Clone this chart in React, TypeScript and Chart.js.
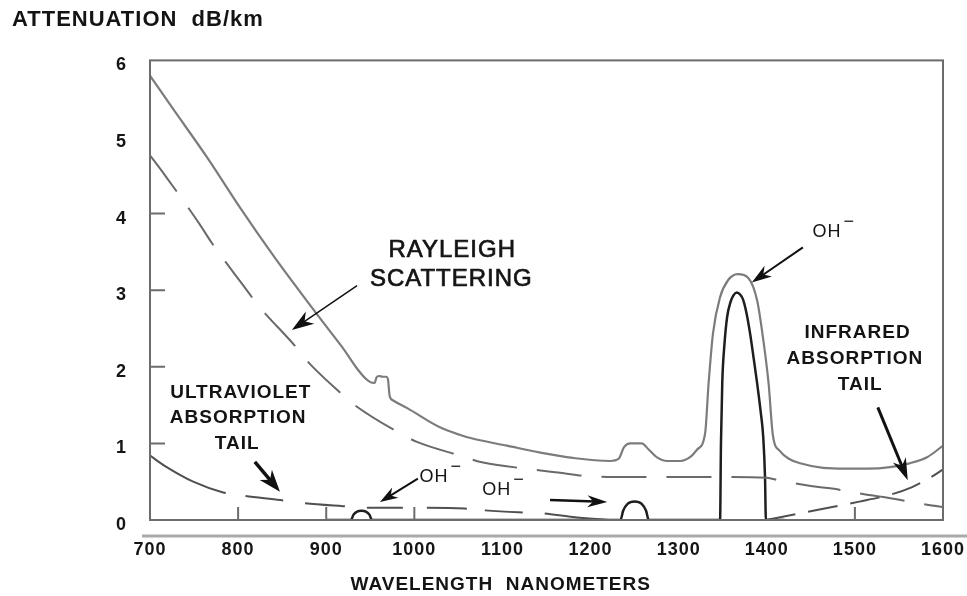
import React, { useEffect, useRef } from "react";
import { Chart, registerables } from "chart.js";

Chart.register(...registerables);

const FONT = "'Liberation Sans', Arial, Helvetica, sans-serif";
const INK = "#141414";

// ---- Data (wavelength in nm, attenuation in dB/km) ----
const totalWavelength = [700, 726, 765, 802, 840, 878, 916, 950, 955, 957, 960, 964, 968, 970, 972, 976, 992, 1029, 1052, 1067, 1105, 1143, 1180, 1222, 1232, 1238, 1245, 1258, 1266, 1275, 1287, 1302, 1314, 1321, 1330, 1334, 1339, 1347, 1356, 1367, 1379, 1389, 1395, 1402, 1407, 1415, 1425, 1438, 1464, 1490, 1514, 1540, 1562, 1582, 1600];
const totalAttenuation = [5.8, 5.37, 4.73, 4.08, 3.45, 2.86, 2.29, 1.8, 1.79, 1.86, 1.88, 1.87, 1.87, 1.84, 1.62, 1.56, 1.46, 1.21, 1.11, 1.06, 0.97, 0.88, 0.81, 0.77, 0.8, 0.95, 1.0, 1.0, 0.92, 0.82, 0.77, 0.77, 0.83, 0.92, 1.13, 1.79, 2.44, 2.91, 3.13, 3.21, 3.16, 2.87, 2.44, 1.79, 1.1, 0.9, 0.8, 0.74, 0.68, 0.67, 0.67, 0.69, 0.74, 0.82, 0.97];

const rayleighWavelength = [700, 717, 757, 770, 806, 823, 867, 878, 916, 930, 984, 1003, 1052, 1078, 1134, 1163, 1200, 1250, 1300, 1350, 1400, 1413, 1452, 1474, 1509, 1532, 1562, 1582, 1600];
const rayleighAttenuation = [4.76, 4.5, 3.85, 3.62, 3.06, 2.8, 2.24, 2.08, 1.66, 1.52, 1.13, 1.02, 0.84, 0.75, 0.66, 0.62, 0.57, 0.56, 0.56, 0.56, 0.55, 0.52, 0.44, 0.41, 0.34, 0.3, 0.24, 0.2, 0.17];

const uvWavelength = [700, 719, 749, 783, 804, 848, 874, 919, 946, 984, 1014, 1057, 1075, 1118, 1143, 1180, 1220];
const uvAttenuation = [0.84, 0.69, 0.5, 0.36, 0.32, 0.26, 0.22, 0.18, 0.16, 0.16, 0.16, 0.15, 0.13, 0.1, 0.09, 0.04, 0.0];

const irWavelength = [1399, 1435, 1470, 1505, 1540, 1565, 1585, 1600];
const irAttenuation = [0.0, 0.08, 0.16, 0.24, 0.33, 0.43, 0.55, 0.66];

const ohWavelength = [900, 928, 931, 935, 940, 945, 949, 952, 1234, 1237, 1242, 1250, 1258, 1263, 1266, 1347, 1348, 1349.5, 1352, 1355, 1359, 1362, 1366, 1370, 1373, 1377, 1381, 1385, 1389, 1393, 1396, 1398, 1399, 1420];
const ohAttenuation = [0, 0, 0.07, 0.11, 0.12, 0.11, 0.07, 0, 0, 0.12, 0.21, 0.24, 0.21, 0.12, 0, 0, 1.0, 1.8, 2.3, 2.65, 2.85, 2.93, 2.97, 2.94, 2.88, 2.7, 2.44, 2.12, 1.79, 1.42, 1.08, 0.56, 0, 0];

const xTickValues = [700, 800, 900, 1000, 1100, 1200, 1300, 1400, 1500, 1600];
const yTickValues = [0, 1, 2, 3, 4, 5, 6];
const xInnerTicks = [800, 900, 1000, 1500];
const yInnerTicks = [1, 2, 3, 4];

// ---- Annotations (anchored in data coordinates) ----
const captions = [
  { text: "RAYLEIGH", x: 1043, y: 3.52, size: 24, weight: "normal", stroke: 0.7 },
  { text: "SCATTERING", x: 1042, y: 3.14, size: 24, weight: "normal", stroke: 0.7 },
  { text: "ULTRAVIOLET", x: 803, y: 1.66, size: 19, weight: "bold", stroke: 0 },
  { text: "ABSORPTION", x: 800, y: 1.33, size: 19, weight: "bold", stroke: 0 },
  { text: "TAIL", x: 799, y: 0.99, size: 19, weight: "bold", stroke: 0 },
  { text: "INFRARED", x: 1503, y: 2.44, size: 19, weight: "bold", stroke: 0 },
  { text: "ABSORPTION", x: 1500, y: 2.11, size: 19, weight: "bold", stroke: 0 },
  { text: "TAIL", x: 1506, y: 1.76, size: 19, weight: "bold", stroke: 0 },
];
const ohLabels = [
  { x: 1006, y: 0.56 },
  { x: 1077, y: 0.39 },
  { x: 1452, y: 3.76 },
];
const arrows = [
  { from: [935, 3.06], to: [861, 2.48], lw: 1.5, len: 22, w: 15 },
  { from: [819, 0.76], to: [847.5, 0.37], lw: 3.5, len: 22, w: 16 },
  { from: [1004, 0.54], to: [961, 0.235], lw: 2, len: 18, w: 12 },
  { from: [1154, 0.26], to: [1219, 0.235], lw: 2.5, len: 20, w: 12 },
  { from: [1441, 3.56], to: [1383, 3.1], lw: 2, len: 20, w: 13 },
  { from: [1526, 1.47], to: [1560, 0.52], lw: 3, len: 22, w: 14 },
];

const pts = (xs: number[], ys: number[]) => xs.map((x, i) => ({ x, y: ys[i] }));

function drawArrow(ctx: CanvasRenderingContext2D, x1: number, y1: number, x2: number, y2: number, lw: number, len: number, w: number) {
  const a = Math.atan2(y2 - y1, x2 - x1);
  const c = Math.cos(a), s = Math.sin(a);
  ctx.lineWidth = lw;
  ctx.beginPath();
  ctx.moveTo(x1, y1);
  ctx.lineTo(x2 - c * len * 0.6, y2 - s * len * 0.6);
  ctx.stroke();
  ctx.beginPath();
  ctx.moveTo(x2, y2);
  ctx.lineTo(x2 - c * len - s * (w / 2), y2 - s * len + c * (w / 2));
  ctx.lineTo(x2 - c * len * 0.7, y2 - s * len * 0.7);
  ctx.lineTo(x2 - c * len + s * (w / 2), y2 - s * len - c * (w / 2));
  ctx.closePath();
  ctx.fill();
}

const decorPlugin = {
  id: "decor",
  beforeUpdate(chart: any) {
    chart.ctx.letterSpacing = "1px";
  },
  beforeDraw(chart: any) {
    chart.ctx.letterSpacing = "1px";
  },
  afterDraw(chart: any) {
    const { ctx, chartArea: a, scales } = chart;
    const xs = scales.x, ys = scales.y;
    ctx.save();
    (ctx as any).letterSpacing = "1px";
    // frame
    ctx.strokeStyle = "#6c6c6c";
    ctx.lineWidth = 2;
    ctx.strokeRect(a.left, a.top, a.right - a.left, a.bottom - a.top);
    // inner tick marks
    ctx.beginPath();
    for (const v of yInnerTicks) {
      const py = ys.getPixelForValue(v);
      ctx.moveTo(a.left, py);
      ctx.lineTo(a.left + 15, py);
    }
    for (const v of xInnerTicks) {
      const px = xs.getPixelForValue(v);
      ctx.moveTo(px, a.bottom);
      ctx.lineTo(px, a.bottom - 13);
    }
    ctx.stroke();
    // rule below axis
    ctx.strokeStyle = "#aaaaaa";
    ctx.lineWidth = 3;
    ctx.beginPath();
    ctx.moveTo(a.left - 8, a.bottom + 16);
    ctx.lineTo(chart.width, a.bottom + 16);
    ctx.stroke();

    ctx.fillStyle = INK;
    ctx.strokeStyle = INK;
    ctx.textBaseline = "middle";
    // x axis title
    ctx.font = `bold 19px ${FONT}`;
    ctx.textAlign = "center";
    ctx.fillText("WAVELENGTH  NANOMETERS", xs.getPixelForValue(1098), a.bottom + 65);
    // captions
    for (const c of captions) {
      ctx.font = `${c.weight} ${c.size}px ${FONT}`;
      const px = xs.getPixelForValue(c.x), py = ys.getPixelForValue(c.y);
      ctx.fillText(c.text, px, py);
      if (c.stroke > 0) {
        ctx.lineWidth = c.stroke;
        ctx.strokeText(c.text, px, py);
      }
    }
    // OH- labels
    ctx.textAlign = "left";
    ctx.font = `18px ${FONT}`;
    for (const o of ohLabels) {
      const px = xs.getPixelForValue(o.x), py = ys.getPixelForValue(o.y);
      ctx.fillText("OH", px, py);
      const w = ctx.measureText("OH").width;
      ctx.fillText("\u2212", px + w + 2, py - 10);
    }
    // arrows
    ctx.strokeStyle = "#111";
    ctx.fillStyle = "#111";
    for (const ar of arrows) {
      drawArrow(ctx, xs.getPixelForValue(ar.from[0]), ys.getPixelForValue(ar.from[1]), xs.getPixelForValue(ar.to[0]), ys.getPixelForValue(ar.to[1]), ar.lw, ar.len, ar.w);
    }
    ctx.restore();
  },
};

export default function App() {
  const ref = useRef<HTMLCanvasElement>(null);
  useEffect(() => {
    const tickFont = { family: FONT, size: 18, weight: "bold" as const };
    const chart = new Chart(ref.current as HTMLCanvasElement, {
      type: "line",
      data: {
        datasets: [
          { label: "Total attenuation", data: pts(totalWavelength, totalAttenuation), borderColor: "#7c7c7c", borderWidth: 2.2, pointRadius: 0, fill: false, cubicInterpolationMode: "monotone" },
          { label: "Rayleigh scattering", data: pts(rayleighWavelength, rayleighAttenuation), borderColor: "#6a6a6a", borderWidth: 2, borderDash: [45, 20], pointRadius: 0, fill: false, cubicInterpolationMode: "monotone" },
          { label: "Ultraviolet absorption tail", data: pts(uvWavelength, uvAttenuation), borderColor: "#505050", borderWidth: 2, borderDash: [85, 20, 38, 22, 40, 22, 36, 24, 40, 18, 38, 22, 66, 400], pointRadius: 0, fill: false, cubicInterpolationMode: "monotone" },
          { label: "Infrared absorption tail", data: pts(irWavelength, irAttenuation), borderColor: "#505050", borderWidth: 2, borderDash: [30, 13], pointRadius: 0, fill: false, cubicInterpolationMode: "monotone" },
          { label: "OH- absorption", data: pts(ohWavelength, ohAttenuation), borderColor: "#1e1e1e", borderWidth: 2.5, pointRadius: 0, fill: false, cubicInterpolationMode: "monotone" },
        ],
      },
      options: {
        animation: false,
        responsive: true,
        maintainAspectRatio: false,
        layout: { padding: { left: 12, right: 24, top: 0, bottom: 0 } },
        plugins: {
          legend: { display: false },
          tooltip: { enabled: false },
          title: {
            display: true,
            text: "ATTENUATION  dB/km",
            align: "start",
            color: INK,
            font: { family: FONT, size: 22, weight: "bold" },
            padding: { top: 7, bottom: 27 },
          },
        },
        scales: {
          x: {
            type: "linear",
            min: 700,
            max: 1600,
            afterFit: (s: any) => { s.height = 76; s.paddingLeft = 0; s.paddingRight = 0; },
            afterBuildTicks: (s: any) => { s.ticks = xTickValues.map((v) => ({ value: v })); },
            grid: { display: false, drawTicks: false },
            border: { display: false },
            ticks: { autoSkip: false, maxRotation: 0, padding: 19, color: INK, font: tickFont, callback: (v: any) => String(v) },
          },
          y: {
            type: "linear",
            min: 0,
            max: 6,
            afterFit: (s: any) => { s.width = 138; s.paddingTop = 0; s.paddingBottom = 0; },
            afterBuildTicks: (s: any) => { s.ticks = yTickValues.map((v) => ({ value: v })); },
            grid: { display: false, drawTicks: false },
            border: { display: false },
            ticks: { padding: 23, labelOffset: 5, color: INK, font: tickFont, callback: (v: any) => String(v) },
          },
        },
      },
      plugins: [decorPlugin],
    } as any);
    return () => chart.destroy();
  }, []);
  return (
    <div style={{ position: "fixed", left: 0, top: 0, width: 967, height: 596, background: "#fff" }}>
      <canvas ref={ref} />
    </div>
  );
}
